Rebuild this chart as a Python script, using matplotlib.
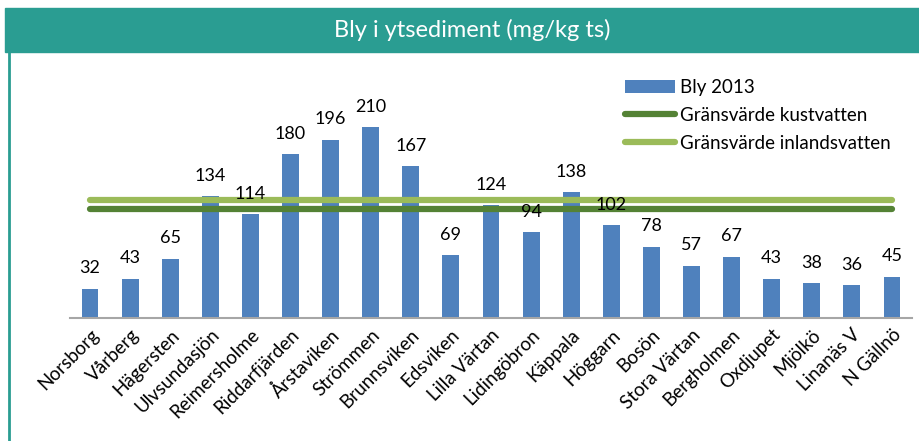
import numpy as np
import matplotlib.pyplot as plt
from matplotlib.patches import Rectangle
from matplotlib.lines import Line2D

plt.rcParams['font.family'] = ['Lato', 'DejaVu Sans']

stations = ["Norsborg", "Vårberg", "Hägersten", "Ulvsundasjön", "Reimersholme",
            "Riddarfjärden", "Årstaviken", "Strömmen", "Brunnsviken", "Edsviken",
            "Lilla Värtan", "Lidingöbron", "Käppala", "Höggarn", "Bosön",
            "Stora Värtan", "Bergholmen", "Oxdjupet", "Mjölkö", "Linanäs V", "N Gällnö"]
bly_2013 = [32, 43, 65, 134, 114, 180, 196, 210, 167, 69, 124, 94, 138, 102, 78,
            57, 67, 43, 38, 36, 45]
grans_kust = 120
grans_inland = 130

x = np.arange(len(stations))
n = len(stations)

fig = plt.figure(figsize=(9.2, 4.41), dpi=100)

# title band + left border
teal = "#2A9D92"
fig.patches.append(Rectangle((5/920, 1-52/441), 915/920, 44/441, transform=fig.transFigure,
                             color=teal, zorder=0))
fig.lines.append(Line2D([9/920, 9/920], [0, 1-52/441], transform=fig.transFigure,
                        color=teal, lw=2))
fig.text(0.513, 1-30/441, "Bly i ytsediment (mg/kg ts)", color="white", fontsize=17,
         ha="center", va="center")

ax = fig.add_axes([70/920, (441-317.7)/441, 842/920, 0.79 - (441-317.7)/441])
bars = ax.bar(x, bly_2013, width=0.42, color="#4F81BD", label="Bly 2013", zorder=2)
l1, = ax.plot(x, [grans_kust]*n, color="#548235", lw=4.5, solid_capstyle="round",
              label="Gränsvärde kustvatten", zorder=3)
l2, = ax.plot(x, [grans_inland]*n, color="#9BBB59", lw=4.5, solid_capstyle="round",
              label="Gränsvärde inlandsvatten", zorder=3)
ax.bar_label(bars, padding=9, fontsize=13)

ax.set_xlim(-0.5, n - 0.5)
ax.set_ylim(0, 248)
ax.set_yticks([])
ax.set_xticks(x)
ax.set_xticklabels(stations, rotation=45, ha="right", rotation_mode="anchor", fontsize=13.5)
ax.tick_params(axis="x", length=0, pad=6)
for s in ["top", "left", "right"]:
    ax.spines[s].set_visible(False)
ax.spines["bottom"].set_color("#A6A6A6")
ax.spines["bottom"].set_linewidth(1.5)

ax.legend([bars, l1, l2], ["Bly 2013", "Gränsvärde kustvatten", "Gränsvärde inlandsvatten"],
          loc="upper left", bbox_to_anchor=(608/920, 1-62/441), bbox_transform=fig.transFigure,
          frameon=False, fontsize=13.5, handlelength=2.7, handletextpad=0.25, labelspacing=0.58)

fig.savefig("out.png", dpi=100)
